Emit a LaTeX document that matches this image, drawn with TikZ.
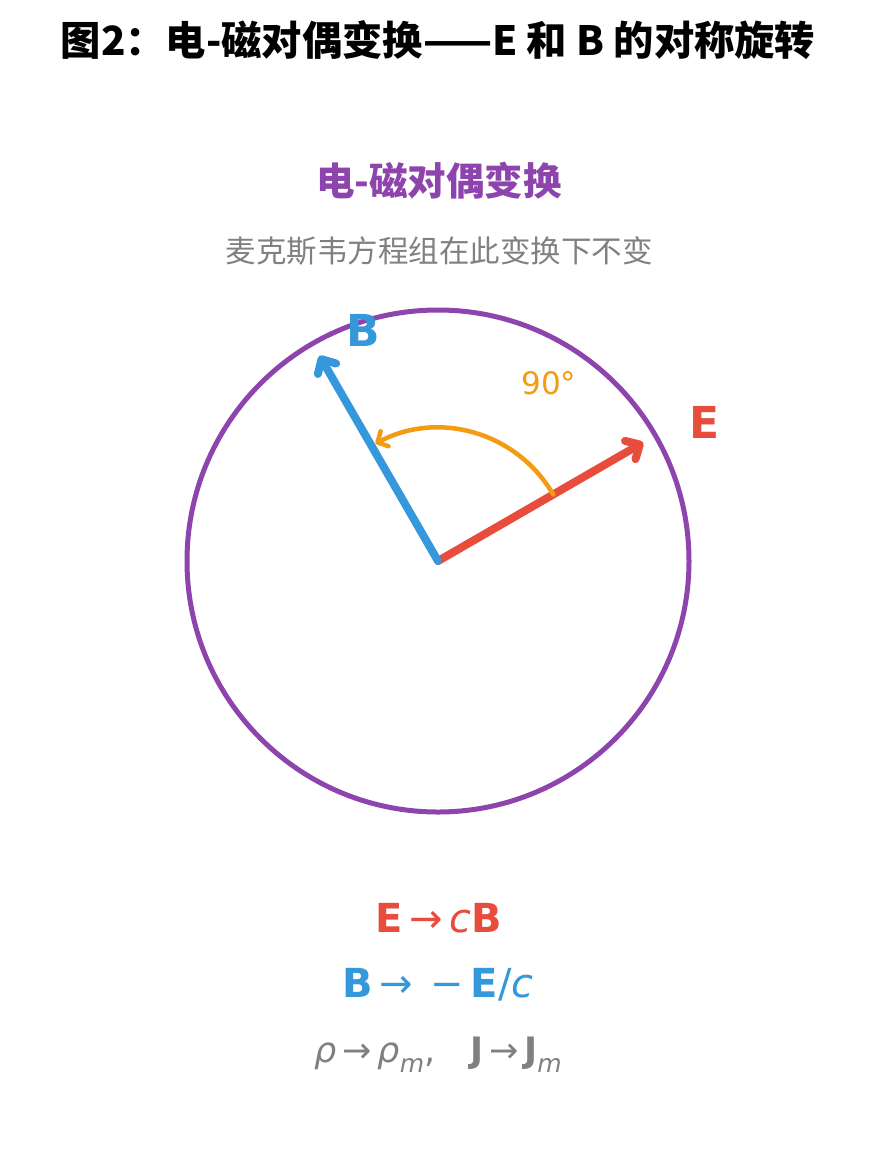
\documentclass[tikz,border=0pt]{standalone}
\usepackage{fontspec}
\setmainfont{DejaVu Sans}
\newfontfamily\cjk{Noto Sans CJK SC}
\usetikzlibrary{arrows.meta}
\definecolor{eRed}{HTML}{E74C3C}
\definecolor{bBlue}{HTML}{3498DB}
\definecolor{dualPurple}{HTML}{8E44AD}
\definecolor{rotOrange}{HTML}{F39C12}
\definecolor{noteGray}{HTML}{808080}
\newcommand{\fs}[1]{\fontsize{#1}{#1}\selectfont}
\newcommand{\sub}[1]{\raisebox{-0.28em}{\fs{25}\itshape #1}}
\begin{document}
\begin{tikzpicture}[x=1pt,y=-1pt,inner sep=0pt,
vec/.style={line width=8pt,line cap=round,-{Straight Barb[round,length=11pt,width=21pt]}},
rot/.style={line width=4.5pt,rotOrange,line cap=round,-{Straight Barb[round,length=8pt,width=17pt]}},
lbl/.style={font=\fs{44}\bfseries},
eqn/.style={font=\fs{40}}]
\useasboundingbox (0,0) rectangle (876,1168);
\node (title) at (438,40) {\cjk\fs{40.3}\bfseries 图2：电-磁对偶变换——E 和 B 的对称旋转};
\node[text=dualPurple] (head) at (439,181) {\cjk\fs{38.5}\bfseries 电-磁对偶变换};
\node[text=noteGray] (note) at (439,251) {\cjk\fs{30.5}麦克斯韦方程组在此变换下不变};
\coordinate (O) at (438,561);
\draw[dualPurple,line width=5pt] (O) circle[radius=251pt];
\draw[vec,eRed] (O) -- ++(30:237pt) coordinate (Etip);
\draw[vec,bBlue] (O) -- ++(120:237pt) coordinate (Btip);
\draw[rot] (O) ++(30:133pt) arc[start angle=30,end angle=118,radius=133pt];
\node[lbl,text=eRed] (Elbl) at (705,422) {E};
\node[lbl,text=bBlue] (Blbl) at (363,330) {B};
\node[text=rotOrange,font=\fs{31}] (ang) at (549,383) {90°};
\node[eqn,text=eRed] (eqE) at (439,918) {\textbf{E}\,→\,\textit{c}\textbf{B}};
\node[eqn,text=bBlue] (eqB) at (438,985) {\textbf{B}\,→\;\,−\,\textbf{E}/\textit{c}};
\node[eqn,text=noteGray,font=\fs{35}] (eqS) at (438,1055) {\textit{ρ}\,→\,\textit{ρ}\sub{m},\quad\textbf{J}\,→\,\textbf{J}\sub{m}};
\end{tikzpicture}
\end{document}
